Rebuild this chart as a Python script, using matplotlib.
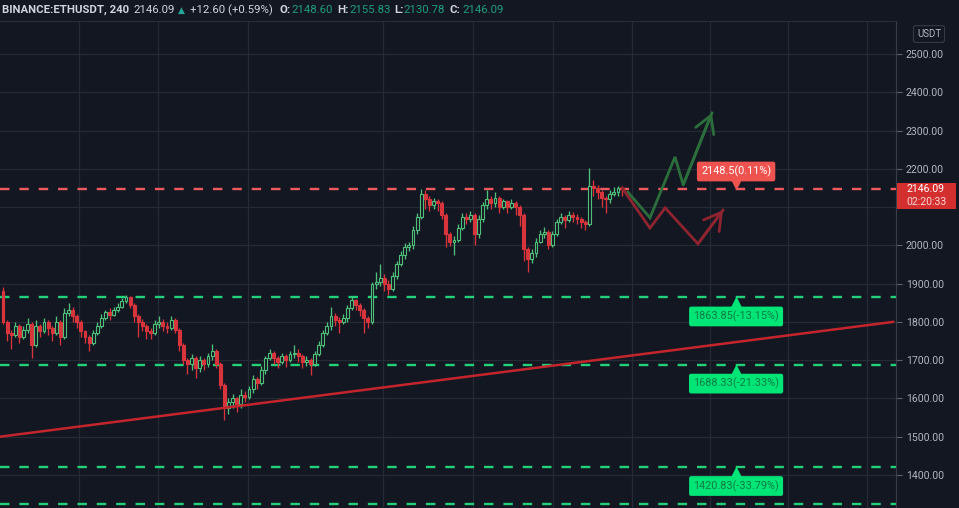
# import libraries
import numpy as np
import matplotlib.pyplot as plt
import matplotlib.transforms as mtransforms
from matplotlib.patches import Rectangle

plt.rcParams['font.family'] = ['Roboto', 'DejaVu Sans']

#########################################
# ETHUSDT 4h candles
first_open = 1880
closes = [1800, 1770, 1765, 1790, 1760, 1780, 1795, 1740, 1790, 1775,
          1800, 1785, 1770, 1800, 1760, 1823, 1830, 1815, 1800, 1775,
          1760, 1745, 1770, 1790, 1810, 1825, 1818, 1830, 1840, 1855,
          1865, 1845, 1815, 1800, 1790, 1775, 1770, 1795, 1800, 1790,
          1785, 1805, 1780, 1740, 1700, 1690, 1705, 1680, 1700, 1690,
          1710, 1725, 1690, 1635, 1575, 1590, 1600, 1585, 1610, 1605,
          1625, 1650, 1640, 1675, 1705, 1720, 1705, 1695, 1710, 1700,
          1715, 1720, 1710, 1695, 1700, 1690, 1715, 1740, 1770, 1790,
          1815, 1805, 1800, 1810, 1835, 1857, 1845, 1830, 1810, 1800,
          1900, 1905, 1915, 1900, 1885, 1920, 1950, 1975, 1995, 2000,
          2040, 2075, 2135, 2120, 2105, 2115, 2110, 2080, 2030, 2010,
          2015, 2045, 2075, 2070, 2080, 2030, 2070, 2105, 2120, 2110,
          2125, 2100, 2115, 2100, 2110, 2100, 2080, 1990, 1965, 1980,
          2010, 2030, 2035, 2000, 2030, 2060, 2075, 2065, 2080, 2075,
          2070, 2060, 2055, 2155, 2150, 2140, 2125, 2120, 2135, 2140,
          2150, 2146.09]
highs = [1890, 1805, 1780, 1800, 1795, 1790, 1810, 1800, 1805, 1795,
         1810, 1805, 1790, 1815, 1805, 1835, 1850, 1838, 1820, 1805,
         1780, 1765, 1780, 1800, 1820, 1832, 1835, 1840, 1850, 1862,
         1870, 1868, 1850, 1820, 1808, 1795, 1785, 1805, 1815, 1808,
         1800, 1815, 1810, 1785, 1745, 1705, 1715, 1710, 1710, 1705,
         1718, 1742, 1730, 1695, 1640, 1600, 1612, 1605, 1625, 1620,
         1632, 1662, 1655, 1685, 1712, 1730, 1725, 1712, 1718, 1715,
         1725, 1740, 1728, 1715, 1710, 1705, 1725, 1750, 1778, 1800,
         1838, 1822, 1812, 1820, 1845, 1865, 1860, 1850, 1835, 1815,
         1905, 1930, 1950, 1925, 1910, 1930, 1958, 1985, 2005, 2010,
         2050, 2085, 2148, 2145, 2128, 2125, 2122, 2115, 2085, 2035,
         2025, 2055, 2085, 2085, 2090, 2085, 2078, 2112, 2145, 2128,
         2140, 2130, 2122, 2118, 2120, 2115, 2105, 2085, 1995, 1990,
         2018, 2040, 2048, 2040, 2038, 2068, 2085, 2080, 2090, 2088,
         2082, 2075, 2065, 2202, 2170, 2158, 2145, 2130, 2145, 2152,
         2156, 2156]
lows = [1795, 1750, 1730, 1760, 1745, 1755, 1770, 1705, 1735, 1760,
        1770, 1765, 1750, 1765, 1740, 1755, 1815, 1800, 1785, 1760,
        1745, 1725, 1740, 1765, 1785, 1805, 1805, 1815, 1825, 1835,
        1850, 1835, 1800, 1760, 1775, 1755, 1755, 1765, 1785, 1775,
        1770, 1780, 1770, 1725, 1690, 1665, 1675, 1653, 1668, 1675,
        1682, 1700, 1680, 1625, 1543, 1560, 1575, 1565, 1575, 1590,
        1598, 1615, 1625, 1635, 1665, 1700, 1690, 1680, 1690, 1682,
        1695, 1705, 1695, 1680, 1685, 1660, 1685, 1710, 1735, 1765,
        1780, 1790, 1770, 1795, 1800, 1830, 1830, 1815, 1770, 1785,
        1795, 1885, 1895, 1880, 1870, 1880, 1912, 1945, 1965, 1985,
        1990, 2030, 2070, 2095, 2090, 2095, 2090, 2070, 1995, 1998,
        1975, 2008, 2040, 2055, 2060, 2000, 2020, 2060, 2095, 2095,
        2100, 2085, 2095, 2085, 2095, 2080, 2050, 1960, 1930, 1955,
        1970, 2005, 2020, 1990, 1995, 2025, 2055, 2045, 2060, 2060,
        2055, 2045, 2040, 2050, 2130, 2120, 2100, 2085, 2110, 2128,
        2130, 2130]

last_price = 2146.09
last_change = 12.60
last_change_pct = 0.59
ohlc_header = [('O', 2148.60), ('H', 2155.83), ('L', 2130.78), ('C', 2146.09)]

# drawn levels
target_level = 2148.5
target_pct = 0.11
support_levels = [1863.85, 1688.33, 1420.83]
support_pct = [-13.15, -21.33, -33.79]
bottom_level = 1325

# rising trend line (candle index, price)
trend_x = [-0.7, 217.1]
trend_y = [1500, 1800]

# projected paths (candle index, price)
bull_x = [152.4, 157.8, 163.9, 165.9, 172.9]
bull_y = [2139, 2072, 2231, 2158, 2346]
bear_x = [151.0, 157.8, 161.5, 169.5, 175.6]
bear_y = [2150, 2045, 2098, 2004, 2092]

price_ticks = [1400, 1500, 1600, 1700, 1800, 1900, 2000, 2100, 2200, 2300, 2400, 2500]
time_grid = [18.5, 37.8, 59.8, 92.7, 114.6, 134.1, 153.4, 172.4, 191.5, 210.7]
label_x = 178.8

#########################################
# colours
bg = '#131722'
grid_c = '#262a35'
axis_txt = '#b2b5be'
up_c = '#4fbf7a'
down_c = '#d8343c'
green_line = '#22d17a'
red_line = '#f05a5f'

opens = [first_open] + closes[:-1]
x = np.arange(len(closes))

fig = plt.figure(figsize=(9.59, 5.08), dpi=100, facecolor=bg)
ax = fig.add_axes([0, 0, 896 / 959, 487 / 508])
ax.set_facecolor(bg)
ax.set_xlim(-0.73, 217.8)
ax.set_ylim(1313.7, 2586.2)

# grid
ax.set_xticks(time_grid)
ax.set_yticks(price_ticks)
ax.grid(True, color=grid_c, lw=0.9)
ax.set_axisbelow(True)
ax.tick_params(axis='x', length=0, labelbottom=False)
ax.yaxis.tick_right()
# the 2100 label sits under the last price tag
ax.set_yticklabels(['' if p == 2100 else '%.2f' % p for p in price_ticks])
ax.tick_params(axis='y', length=4, width=0.8, color='#5d606b', pad=3,
               labelsize=7.6, labelcolor=axis_txt)
for s in ['left', 'bottom']:
    ax.spines[s].set_visible(False)
ax.spines['right'].set_color('#3a3e4a')
ax.spines['top'].set_color('#2a2e39')

# candles
for i in x:
    o, c = opens[i], closes[i]
    up = c >= o
    col = up_c if up else down_c
    ax.vlines(i, lows[i], highs[i], color=col, lw=0.95, zorder=3)
    body = max(abs(c - o), 2)
    ax.add_patch(Rectangle((i - 0.36, min(o, c)), 0.72, body,
                           facecolor=bg if up else col, edgecolor=col,
                           lw=0.8, zorder=4))

# levels
ax.axhline(target_level, color=red_line, lw=1.7, dashes=(4, 4.2), zorder=2)
for lvl in support_levels + [bottom_level]:
    ax.axhline(lvl, color=green_line, lw=1.7, dashes=(4, 4.2), zorder=2)

# trend line
ax.plot(trend_x, trend_y, color='#c4252c', lw=1.8, zorder=5)

# projections
for px, py, col in [(bull_x, bull_y, '#2c6e3b'), (bear_x, bear_y, '#8e2430')]:
    ax.plot(px, py, color=col, lw=2, zorder=5, solid_joinstyle='miter')
    ax.annotate('', xy=(px[-1], py[-1]), xytext=(px[-2], py[-2]),
                arrowprops=dict(arrowstyle='->,head_length=0.6,head_width=0.35',
                                color=col, lw=2, shrinkA=0, shrinkB=0,
                                mutation_scale=20), zorder=5)

# level labels with little pointers
def offset(dy):
    return ax.transData + mtransforms.ScaledTranslation(0, dy / 100, fig.dpi_scale_trans)

ax.plot(label_x, target_level, marker='v', ms=8, color='#ef5350', mec='none',
        transform=offset(5), zorder=6)
ax.annotate('%.1f(%.2f%%)' % (target_level, target_pct), xy=(label_x, target_level),
            xytext=(0, 17), textcoords='offset pixels', ha='center', va='center',
            fontsize=7.8, color='white', zorder=7,
            bbox=dict(boxstyle='round,pad=0.38,rounding_size=0.2', fc='#ef5350', ec='none'))
for lvl, pct in zip(support_levels, support_pct):
    ax.plot(label_x, lvl, marker='^', ms=8, color='#00e676', mec='none',
            transform=offset(-5), zorder=6)
    ax.annotate('%.2f(%.2f%%)' % (lvl, pct), xy=(label_x, lvl),
                xytext=(0, -19), textcoords='offset pixels', ha='center', va='center',
                fontsize=7.8, color='#137a45', zorder=7,
                bbox=dict(boxstyle='round,pad=0.38,rounding_size=0.2', fc='#00e676', ec='none'))

# last price tag on the axis
yax = ax.get_yaxis_transform()
px2price = (2586.2 - 1313.7) / 487
ax.add_patch(Rectangle((1.0015, last_price - 20 * px2price), 0.066, 26 * px2price,
                       transform=yax, facecolor='#d32f2f', edgecolor='none',
                       clip_on=False, zorder=10))
ax.text(1.012, last_price, '%.2f' % last_price, transform=yax, fontsize=7.6,
        color='white', va='center', ha='left', zorder=11)
ax.text(1.012, last_price - 13 * px2price, '02:20:33', transform=yax, fontsize=7.6,
        color='#ffd6d6', va='center', ha='left', zorder=11)

# currency box
fig.text(929 / 959, 1 - 34 / 508, 'USDT', fontsize=7, color=axis_txt,
         ha='center', va='center',
         bbox=dict(boxstyle='round,pad=0.35,rounding_size=0.25', fc=bg, ec='#363a45', lw=0.8))

# header
hy = 1 - 10 / 508
head = [(2, 'BINANCE:ETHUSDT, 240', '#d1d4dc', 'bold'),
        (133, '%.2f' % last_price, '#d1d4dc', 'normal'),
        (178, '\u25B2', '#26a69a', 'normal'),
        (190, '+%.2f (+%.2f%%)' % (last_change, last_change_pct), '#d1d4dc', 'normal')]
hx = [279, 337, 394, 450]
for (k, v), xp in zip(ohlc_header, hx):
    head.append((xp, k + ':', '#d1d4dc', 'bold'))
    head.append((xp + (12 if k != 'L' else 9), '%.2f' % v, '#1f9e7a', 'normal'))
for xp, t, col, w in head:
    fig.text(xp / 959, hy, t, fontsize=8.2 if t != '\u25B2' else 6.5, color=col,
             fontweight=w, ha='left', va='center',
             family=['Roboto', 'DejaVu Sans'] if t != '\u25B2' else 'DejaVu Sans')

fig.savefig('out.png', dpi=100, facecolor=bg)
